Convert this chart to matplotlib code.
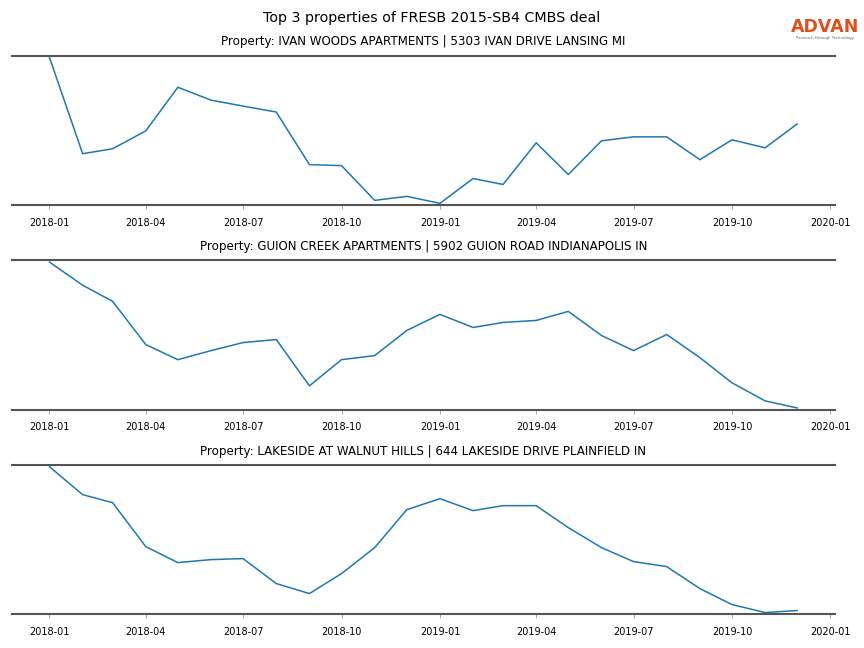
import matplotlib
matplotlib.use("Agg")
import matplotlib.pyplot as plt
import matplotlib.dates as mdates
import pandas as pd

months = pd.date_range("2018-01-01", "2019-12-01", freq="MS")

titles = [
    "Property: IVAN WOODS APARTMENTS | 5303 IVAN DRIVE LANSING MI",
    "Property: GUION CREEK APARTMENTS | 5902 GUION ROAD INDIANAPOLIS IN",
    "Property: LAKESIDE AT WALNUT HILLS | 644 LAKESIDE DRIVE PLAINFIELD IN",
]

ivan_woods = [148, 51, 56, 74, 118, 105, 99, 93, 40, 39, 4, 8,
              1, 26, 20, 62, 30, 64, 68, 68, 45, 65, 57, 81]
guion_creek = [147, 124, 108, 65, 50, 59, 67, 70, 24, 50, 54, 79,
               95, 82, 87, 89, 98, 74, 59, 75, 52, 27, 9, 2]
lakeside = [147, 119, 111, 67, 51, 54, 55, 30, 20, 40, 66, 104,
            115, 103, 108, 108, 86, 66, 52, 47, 25, 9, 1, 3]

series = [ivan_woods, guion_creek, lakeside]

fig, axes = plt.subplots(3, 1, figsize=(8.64, 6.48), dpi=100)
fig.subplots_adjust(left=0.014, right=0.966, top=0.914, bottom=0.052, hspace=0.37)

for ax, vals, title in zip(axes, series, titles):
    ax.plot(months, vals, color="#1f77b4", linewidth=1.1)
    ax.set_title(title, fontsize=8.6, pad=7.5)
    ax.margins(y=0.012)
    ax.set_yticks([])
    for s in ["left", "right"]:
        ax.spines[s].set_visible(False)
    for s in ["top", "bottom"]:
        ax.spines[s].set_color("#555555")
        ax.spines[s].set_linewidth(1.5)
    ax.xaxis.set_major_locator(mdates.MonthLocator(bymonth=[1, 4, 7, 10]))
    ax.xaxis.set_major_formatter(mdates.DateFormatter("%Y-%m"))
    ax.tick_params(axis="x", labelsize=7, length=3, width=0.6, color="#999999", pad=6)

fig.suptitle("Top 3 properties of FRESB 2015-SB4 CMBS deal", fontsize=10.3, y=0.983)

fig.text(0.955, 0.958, "ADVAN", color="#E0501E", fontsize=12.5, ha="center", va="center",
         fontweight="bold", family="DejaVu Sans")
fig.text(0.955, 0.941, "Research through Technology", color="#666666", fontsize=2.8,
         ha="center", va="center")

fig.savefig("out.png", dpi=100)
